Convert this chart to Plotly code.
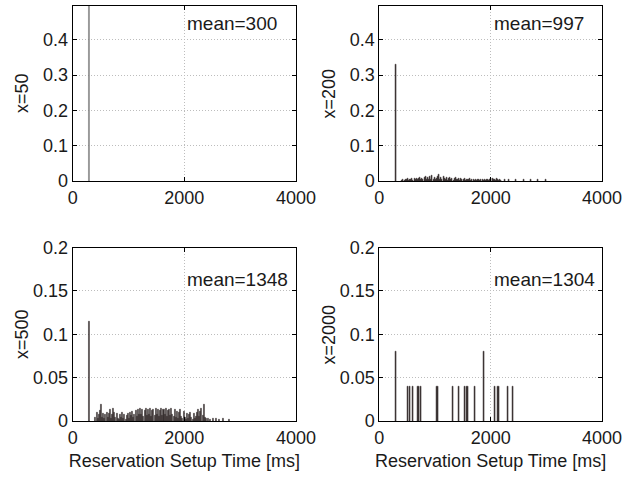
import plotly.graph_objects as go

# ---- data: probability histograms of reservation setup time (20 ms bins) ----
panel_labels = ["x=50", "x=200", "x=500", "x=2000"]
panel_means = ["mean=300", "mean=997", "mean=1348", "mean=1304"]

# x=50: every reservation completes in one bin
t50 = [300]
p50 = [1.0]

# x=200
t200 = [300,
        410, 430, 450, 470, 490, 510, 530, 550, 570, 590, 610, 630, 650, 670, 690,
        710, 730, 750, 770, 790, 810, 830, 850, 870, 890, 910, 930, 950, 970, 990,
        1010, 1030, 1050, 1070, 1090, 1110, 1130, 1150, 1170, 1190, 1210, 1230, 1250,
        1270, 1290, 1310, 1330, 1350, 1370, 1390, 1410, 1430, 1450, 1470, 1490, 1510,
        1530, 1550, 1570, 1590, 1610, 1630, 1650, 1670, 1690, 1710, 1730, 1750, 1770,
        1790, 1810, 1830, 1850, 1870, 1890, 1910, 1930, 1950, 1970, 1990, 2010, 2030,
        2050, 2070, 2090, 2110, 2130, 2150, 2170, 2190,
        2250, 2330, 2450, 2590, 2730, 2850, 2990]
p200 = [0.330,
        0.002, 0.004, 0.002, 0.005, 0.003, 0.006, 0.002, 0.005, 0.003, 0.007, 0.002,
        0.006, 0.003, 0.008, 0.004, 0.006, 0.011, 0.003, 0.007, 0.004, 0.010, 0.013,
        0.003, 0.009, 0.004, 0.012, 0.005, 0.015, 0.004, 0.011, 0.003, 0.008, 0.012,
        0.018, 0.004, 0.010, 0.003, 0.013, 0.006, 0.003, 0.009, 0.002, 0.007, 0.010,
        0.003, 0.008, 0.002, 0.006, 0.011, 0.003, 0.005, 0.007, 0.002, 0.006, 0.003,
        0.004, 0.006, 0.002, 0.005, 0.003, 0.004, 0.006, 0.002, 0.004, 0.005, 0.002,
        0.005, 0.002, 0.004, 0.005, 0.002, 0.004, 0.005, 0.002, 0.004, 0.002, 0.003,
        0.005, 0.002, 0.003, 0.006, 0.008, 0.003, 0.005, 0.002, 0.006, 0.003, 0.002,
        0.005, 0.002,
        0.003, 0.004, 0.003, 0.004, 0.003, 0.004, 0.003]

# x=500
t500 = [300,
        410, 430, 450, 470, 490, 510, 530, 550, 570, 590, 610, 630, 650, 670, 690,
        710, 730, 750, 770, 790, 810, 830, 850, 870, 890, 910, 930, 950, 970, 990,
        1010, 1030, 1050, 1070, 1090, 1110, 1130, 1150, 1170, 1190, 1210, 1230, 1250,
        1270, 1290, 1310, 1330, 1350, 1370, 1390, 1410, 1430, 1450, 1470, 1490, 1510,
        1530, 1550, 1570, 1590, 1610, 1630, 1650, 1670, 1690, 1710, 1730, 1750, 1770,
        1790, 1810, 1830, 1850, 1870, 1890, 1910, 1930, 1950, 1970, 1990, 2010, 2030,
        2050, 2070, 2090, 2110, 2130, 2150, 2170, 2190, 2210, 2230, 2250, 2270, 2290,
        2310, 2330, 2350, 2370, 2390,
        2430, 2470, 2510, 2570, 2630, 2690, 2810]
p500 = [0.115,
        0.004, 0.010, 0.003, 0.008, 0.012, 0.019, 0.004, 0.009, 0.003, 0.008, 0.010,
        0.004, 0.009, 0.013, 0.003, 0.007, 0.014, 0.010, 0.004, 0.009, 0.003, 0.002,
        0.008, 0.004, 0.010, 0.003, 0.008, 0.002, 0.006, 0.009, 0.003, 0.010, 0.006,
        0.011, 0.004, 0.008, 0.012, 0.005, 0.013, 0.007, 0.014, 0.008, 0.013, 0.005,
        0.012, 0.014, 0.006, 0.013, 0.008, 0.014, 0.005, 0.012, 0.013, 0.006, 0.014,
        0.008, 0.013, 0.005, 0.012, 0.014, 0.006, 0.013, 0.008, 0.014, 0.005, 0.012,
        0.013, 0.006, 0.014, 0.008, 0.005, 0.013, 0.004, 0.011, 0.003, 0.010, 0.013,
        0.005, 0.003, 0.011, 0.004, 0.002, 0.009, 0.003, 0.008, 0.010, 0.004, 0.002,
        0.009, 0.003, 0.005, 0.010, 0.013, 0.005, 0.011, 0.014, 0.006, 0.019, 0.004,
        0.003,
        0.003, 0.002, 0.003, 0.003, 0.002, 0.003, 0.002]

# x=2000: only 25 samples, so heights are multiples of 0.04
t2000 = [300, 510, 550, 600, 700, 740, 1040, 1315, 1423, 1535, 1580, 1710, 1880,
         2080, 2140, 2312, 2396]
p2000 = [0.08, 0.04, 0.04, 0.04, 0.04, 0.04, 0.04, 0.04, 0.04, 0.04, 0.04, 0.04,
         0.08, 0.04, 0.04, 0.04, 0.04]

x_ticks = [0, 2000, 4000]
y_ticks_top = [0, 0.1, 0.2, 0.3, 0.4]
y_ticks_bottom = [0, 0.05, 0.1, 0.15, 0.2]
x_title = "Reservation Setup Time [ms]"

W, H = 624, 477
FONT = "Liberation Sans, Arial, sans-serif"
FS = 18
TXT = "#1a1a1a"
BAR = "#383131"

# panel frames in pixels: (left, right, top, bottom)
frames = [(72.7, 296.0, 5.5, 181.0), (379.3, 602.0, 5.5, 181.0),
          (72.7, 296.0, 247.5, 421.0), (379.3, 602.0, 247.5, 421.0)]
series = [(t50, p50), (t200, p200), (t500, p500), (t2000, p2000)]
yranges = [[0, 0.497], [0, 0.497], [0, 0.2], [0, 0.2]]
yticks = [y_ticks_top, y_ticks_top, y_ticks_bottom, y_ticks_bottom]
colors = ["#7c7c7c", BAR, BAR, BAR]
widths = [22, 18, 18, 24]

fig = go.Figure()
layout = dict(
    width=W, height=H, margin=dict(l=0, r=0, t=0, b=0),
    paper_bgcolor="white", plot_bgcolor="white", showlegend=False,
    font=dict(family=FONT, size=FS, color=TXT),
    bargap=0, annotations=[],
)

for i, ((l, r, t, b), (tx, py)) in enumerate(zip(frames, series)):
    k = "" if i == 0 else str(i + 1)
    fig.add_trace(go.Bar(
        x=tx, y=py, width=widths[i], xaxis="x" + k, yaxis="y" + k,
        marker=dict(color=colors[i], line=dict(color=colors[i], width=0.5)),
        hoverinfo="x+y",
    ))
    axis_common = dict(
        showline=True, linecolor="black", linewidth=1, mirror="ticks",
        ticks="inside", ticklen=4, tickcolor="black",
        showgrid=True, gridcolor="#bdbdbd", griddash="1px,2px", gridwidth=1,
        zeroline=False, automargin=False,
        tickfont=dict(family=FONT, size=FS, color=TXT),
    )
    xa = dict(axis_common, domain=[l / W, r / W], range=[0, 4000],
              tickvals=x_ticks, ticktext=[str(v) for v in x_ticks],
              anchor="y" + k)
    if i >= 2:
        xa["title"] = dict(text=x_title, standoff=7,
                           font=dict(family=FONT, size=FS, color=TXT))
    ya = dict(axis_common, domain=[1 - b / H, 1 - t / H], range=yranges[i],
              tickvals=yticks[i], ticktext=[f"{v:g}" for v in yticks[i]],
              anchor="x" + k)
    layout["xaxis" + k] = xa
    layout["yaxis" + k] = ya

    # y-axis label on the left of each panel
    layout["annotations"].append(dict(
        text=panel_labels[i], textangle=-90, xref="paper", yref="paper",
        x=(l - 50) / W, y=1 - (t + b) / 2 / H, showarrow=False,
        xanchor="center", yanchor="middle",
        font=dict(family=FONT, size=FS, color=TXT),
    ))
    # mean value in the upper right
    layout["annotations"].append(dict(
        text=panel_means[i], xref="x" + k, yref="y" + k,
        x=2020, y=yranges[i][1] * (0.9 if i < 2 else 0.815),
        showarrow=False, xanchor="left", yanchor="middle",
        font=dict(family=FONT, size=19, color=TXT),
    ))

fig.update_layout(**layout)
fig.write_html("out.html")
